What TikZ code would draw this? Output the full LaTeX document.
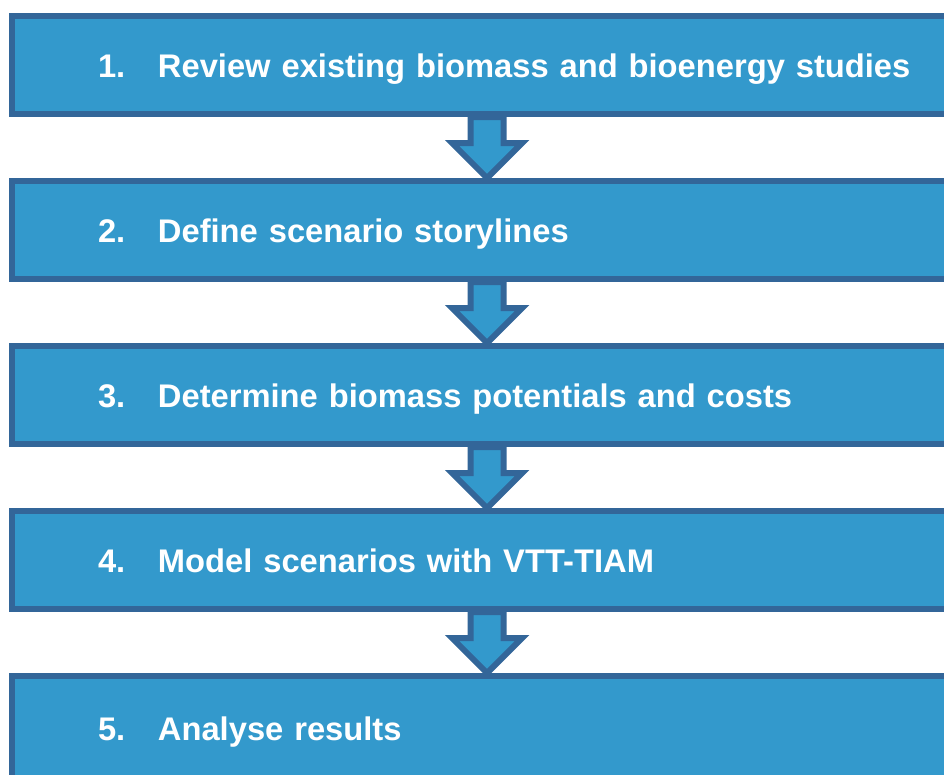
\documentclass[tikz,border=0pt]{standalone}
\usepackage{fontspec}
\setmainfont{Liberation Sans}
\usetikzlibrary{positioning,calc}

\definecolor{boxfill}{RGB}{51,153,204}
\definecolor{boxline}{RGB}{51,102,153}

\newcommand{\stepitem}[2]{\makebox[778pt][l]{\makebox[60pt][l]{#1}#2}}
\newcommand{\blockarrow}[2]{%
    \draw[flowarrow] ($(#1.south)+(-16.5,0)$) -- ($(#2.north)+(-16.5,35)$)
        -- ($(#2.north)+(-35,35)$) -- (#2.north) -- ($(#2.north)+(35,35)$)
        -- ($(#2.north)+(16.5,35)$) -- ($(#1.south)+(16.5,0)$) -- cycle;}

\begin{document}
\begin{tikzpicture}[
                x=1pt, y=1pt,
                box/.style={draw=boxline, fill=boxfill, line width=6pt,
                    minimum height=98pt, text width=778pt, inner xsep=86pt,
                    inner ysep=0pt, text height=24pt, text depth=0pt,
                    font=\fontsize{32.7}{40}\selectfont\bfseries, text=white},
                flowarrow/.style={draw=boxline, fill=boxfill, line width=6pt,
                    line join=miter}
            ]
            \useasboundingbox (0,0) rectangle (944,-774);
            \clip (0,0) rectangle (944,-774);

            \node[box, anchor=west] (b1) at (9,-65)
                {\stepitem{1.}{Review existing biomass and bioenergy studies}};
            \node[box, below=61pt of b1] (b2)
                {\stepitem{2.}{Define scenario storylines}};
            \node[box, below=61pt of b2] (b3)
                {\stepitem{3.}{Determine biomass potentials and costs}};
            \node[box, below=61pt of b3] (b4)
                {\stepitem{4.}{Model scenarios with VTT-TIAM}};
            % last box runs off the bottom edge
            \node[box, below=61pt of b4, minimum height=104pt] (b5)
                {\stepitem{5.}{Analyse results}};

            \blockarrow{b1}{b2}
            \blockarrow{b2}{b3}
            \blockarrow{b3}{b4}
            \blockarrow{b4}{b5}
        \end{tikzpicture}
\end{document}
